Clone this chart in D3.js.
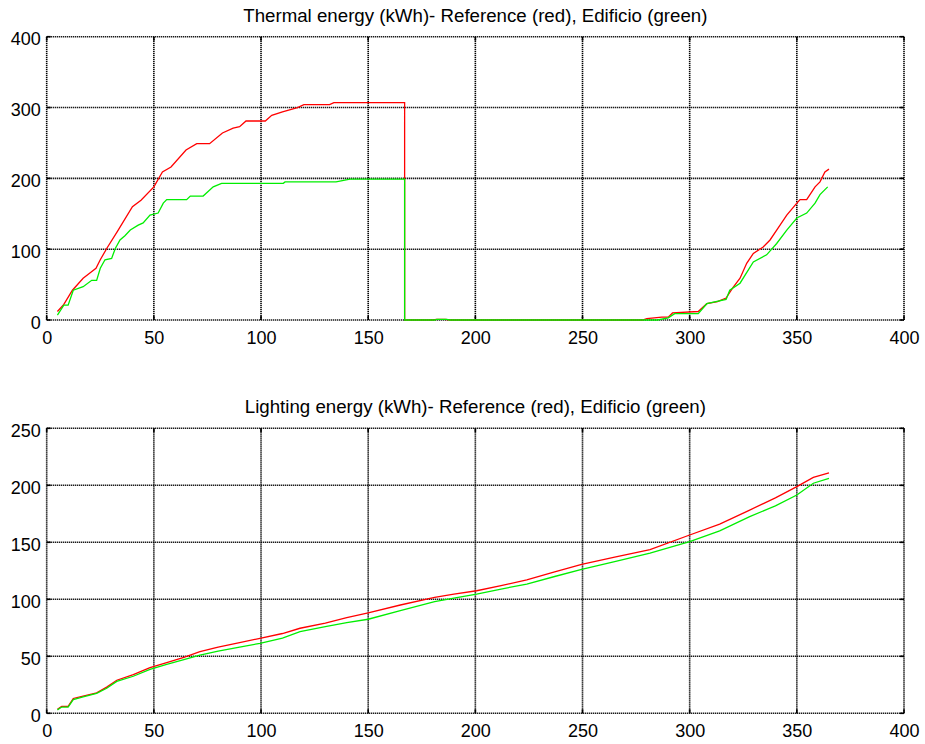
<!DOCTYPE html>
<html>
<head>
<meta charset="utf-8">
<script src="https://cdn.jsdelivr.net/npm/d3@7/dist/d3.min.js"></script>
<style>
  html, body { margin: 0; padding: 0; background: #fff; }
  svg { display: block; }
  text { font-family: "Liberation Sans", Arial, sans-serif; fill: #000; }
</style>
</head>
<body>
<svg id="chart" width="925" height="744"></svg>
<script>
// ---------- data ----------
const xTicks = [0, 50, 100, 150, 200, 250, 300, 350, 400];
const thermalTicks = [0, 100, 200, 300, 400];
const lightingTicks = [0, 50, 100, 150, 200, 250];

const thermalTitle = "Thermal energy (kWh)- Reference (red), Edificio (green)";
const lightingTitle = "Lighting energy (kWh)- Reference (red), Edificio (green)";

// Thermal - Reference (red): [day, kWh]
const thermalRefDays = [5, 8, 12, 17, 20, 23, 25, 28, 33, 40, 44, 50, 54, 58, 65, 70, 76, 82, 87, 90, 93, 102, 105, 110, 117, 120, 132, 134, 167,
  167, 180, 182, 186, 188, 278, 280, 287, 290, 292, 304, 308, 313, 317, 320, 323.5, 326.6, 329.7, 334.3, 337.5, 340.6, 345.3, 350, 351.5, 354.6, 358.5, 360.8, 363.1, 365];
const thermalRefVals = [12, 22, 42, 59, 66, 73, 85, 101, 125, 160, 169, 188, 209, 216, 240, 249, 249, 264, 271, 273, 281, 281, 289, 294, 300, 304, 304, 307, 307,
  0, 0, 1, 1, 0, 0, 2, 4, 4, 10, 12, 23, 26, 31, 45, 59, 80, 94, 103, 113, 127, 148, 165, 170, 170, 188, 195, 209, 213];

// Thermal - Edificio (green)
const thermalEdiDays = [5, 8, 10, 12.4, 17, 21, 23.3, 25, 27.2, 30.3, 32, 34.2, 36.5, 39, 42.7, 45, 48.2, 52, 54.4, 56, 65.3, 67, 73, 77.7, 81.6, 110.4, 111.2, 135, 141.5, 167,
  167, 181, 182, 186.6, 188, 285, 290, 293, 304, 308, 317, 318.7, 323.5, 329.7, 335.9, 340.6, 345.3, 350, 354.6, 358.5, 360.8, 364.4];
const thermalEdiVals = [7, 21, 21, 42, 47, 56, 56, 73, 85, 87, 101, 113, 119, 127, 134, 137, 148, 151, 165, 170, 170, 175, 175, 188, 193, 193, 195, 195, 199, 199,
  0, 0, 1, 1, 0, 0, 3, 9, 9, 23, 29, 42, 52, 82, 92, 108, 127, 144, 151, 165, 177, 188];

// Lighting - Reference (red)
const lightRefDays = [5, 7, 10, 12.4, 17, 23.3, 28, 32.7, 40.4, 48.2, 56, 64, 71.5, 80, 90, 99.5, 110, 118.2, 130, 140, 150, 165, 181, 190, 200.6, 212, 224, 237, 249.6, 265, 281.5, 300, 314, 328, 340, 350, 357.7, 365];
const lightRefVals = [3.5, 6, 6, 13, 15, 18, 23, 29, 34, 40, 44.5, 49, 54, 58, 62, 65.8, 70, 74.6, 79, 84, 88, 95, 101.7, 104.5, 107.5, 112, 117, 124, 130.7, 137, 143.5, 156.4, 166, 178.3, 189, 198.8, 207, 211];

// Lighting - Edificio (green)
const lightEdiDays = [5, 7, 10, 12.4, 17, 23.3, 28, 32.7, 40.4, 48.2, 56, 64, 71.5, 80, 90, 99.5, 110, 118.2, 130, 140, 150, 165, 181, 190, 200.6, 212, 224, 237, 249.6, 265, 281.5, 300, 314, 328, 340, 350, 357.7, 365];
const lightEdiVals = [3, 5.5, 5.5, 12, 14.5, 17.5, 22, 28, 32.5, 38.5, 43, 47, 51, 54.5, 58, 61.4, 66, 71.6, 76, 79.5, 82.5, 90, 97.9, 101, 104.6, 109, 113.4, 120, 126.3, 133, 140.6, 150.5, 160, 172.5, 182, 191.5, 201.8, 206];

// ---------- drawing ----------
const svg = d3.select("#chart");
const left = 46.7, right = 904;

function panel(cfg) {
  const x = d3.scaleLinear().domain([0, 400]).range([left, right]);
  const y = d3.scaleLinear().domain([0, cfg.ymax]).range([cfg.bottom, cfg.top]);
  const g = svg.append("g");

  // title
  g.append("text")
    .attr("x", (left + right) / 2)
    .attr("y", cfg.top - 15)
    .attr("text-anchor", "middle")
    .style("font-size", "18.7px")
    .text(cfg.title);

  // grid (dotted)
  const dot = { stroke: "#000", "stroke-width": 1.6, "stroke-dasharray": "1.2,0.8" };
  const grid = g.append("g");
  cfg.yticks.forEach(v => {
    const l = grid.append("line")
      .attr("x1", left).attr("x2", right)
      .attr("y1", y(v)).attr("y2", y(v));
    Object.entries(dot).forEach(([k, val]) => l.attr(k, val));
  });
  xTicks.forEach(v => {
    const l = grid.append("line")
      .attr("x1", x(v)).attr("x2", x(v))
      .attr("y1", cfg.top).attr("y2", cfg.bottom);
    Object.entries(dot).forEach(([k, val]) => l.attr(k, val));
  });

  // small solid tick marks on all four sides
  xTicks.forEach(v => {
    g.append("line").attr("x1", x(v)).attr("x2", x(v)).attr("y1", cfg.bottom).attr("y2", cfg.bottom - 4)
      .attr("stroke", "#000").attr("stroke-width", 1.6);
    g.append("line").attr("x1", x(v)).attr("x2", x(v)).attr("y1", cfg.top).attr("y2", cfg.top + 4)
      .attr("stroke", "#000").attr("stroke-width", 1.6);
  });
  cfg.yticks.forEach(v => {
    g.append("line").attr("x1", left).attr("x2", left + 4).attr("y1", y(v)).attr("y2", y(v))
      .attr("stroke", "#000").attr("stroke-width", 1.6);
    g.append("line").attr("x1", right).attr("x2", right - 4).attr("y1", y(v)).attr("y2", y(v))
      .attr("stroke", "#000").attr("stroke-width", 1.6);
  });

  // axes labels via d3 axes
  const xAxis = d3.axisBottom(x).tickValues(xTicks).tickSize(0).tickPadding(11).tickFormat(d3.format("d"));
  const xg = g.append("g").attr("transform", `translate(0,${cfg.bottom})`).call(xAxis);
  xg.select(".domain").remove();
  xg.selectAll("text").style("font-size", "18px").attr("font-family", null);

  const yAxis = d3.axisLeft(y).tickValues(cfg.yticks).tickSize(0).tickPadding(6).tickFormat(d3.format("d"));
  const yg = g.append("g").attr("transform", `translate(${left},0)`).call(yAxis);
  yg.select(".domain").remove();
  yg.selectAll("text").style("font-size", "18px").attr("dy", "0.45em").attr("font-family", null);

  // series
  const line = d3.line().x(d => x(d[0])).y(d => y(d[1])).curve(d3.curveLinear);
  cfg.series.forEach(s => {
    const pts = s.days.map((d, i) => [d, s.vals[i]]);
    g.append("path").datum(pts)
      .attr("fill", "none")
      .attr("stroke", s.color)
      .attr("stroke-width", 1.3)
      .attr("d", line);
  });
}

panel({
  top: 36.7, bottom: 320, ymax: 400, yticks: thermalTicks, title: thermalTitle,
  series: [
    { days: thermalRefDays, vals: thermalRefVals, color: "#ff0000" },
    { days: thermalEdiDays, vals: thermalEdiVals, color: "#00ee00" }
  ]
});

panel({
  top: 428.3, bottom: 713.3, ymax: 250, yticks: lightingTicks, title: lightingTitle,
  series: [
    { days: lightRefDays, vals: lightRefVals, color: "#ff0000" },
    { days: lightEdiDays, vals: lightEdiVals, color: "#00ee00" }
  ]
});
</script>
</body>
</html>
